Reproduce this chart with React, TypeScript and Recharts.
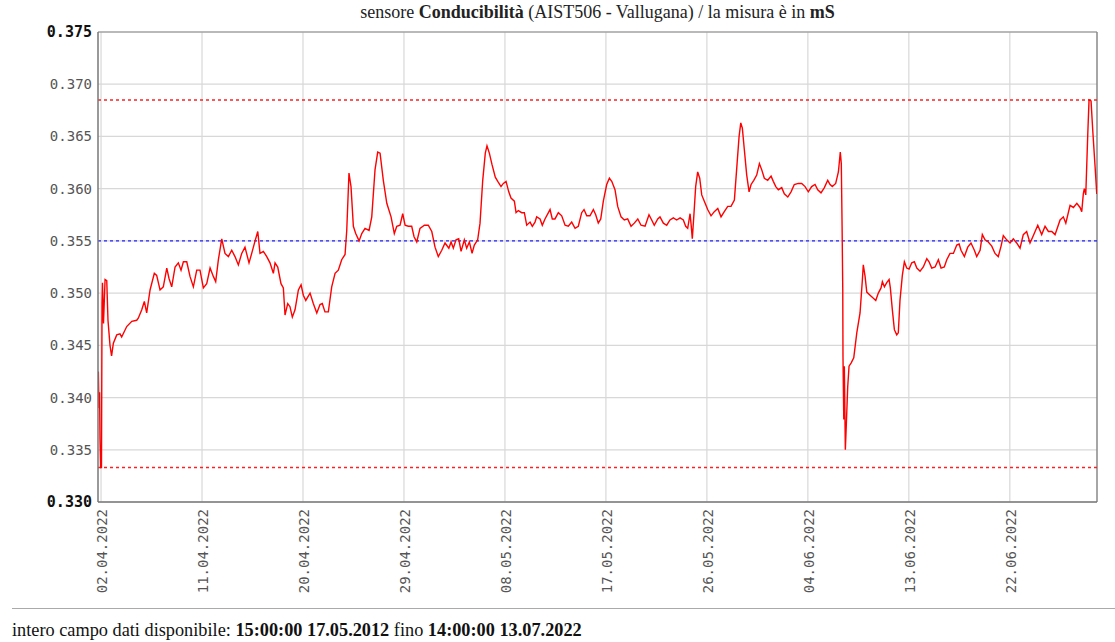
import React from "react";
import { LineChart, Line, XAxis, YAxis, CartesianGrid, ReferenceLine } from "recharts";

// days since 02.04.2022 00:00
const T: number[] = [
  -0.24, -0.18, -0.13, -0.09, -0.04, 0.04, 0.09, 0.13, 0.22, 0.36, 0.51, 0.62, 0.8, 0.94, 1.1, 1.4, 1.69, 1.84, 2.29, 2.74,
  3.18, 3.32, 3.63, 3.86, 4.07, 4.37, 4.75, 4.96, 5.26, 5.55, 5.86, 6.06, 6.3, 6.6, 6.89, 7.13, 7.34, 7.64, 7.93, 8.23,
  8.53, 8.82, 9.12, 9.42, 9.72, 10.01, 10.22, 10.46, 10.76, 11.05, 11.35, 11.65, 11.94, 12.24, 12.54, 12.83, 13.19, 13.43, 13.73, 13.97,
  14.17, 14.47, 14.77, 15.06, 15.36, 15.51, 15.75, 16.04, 16.25, 16.4, 16.64, 16.84, 17.05, 17.29, 17.59, 17.83, 18.03, 18.25, 18.63, 18.92,
  19.23, 19.52, 19.72, 19.96, 20.26, 20.56, 20.86, 21.15, 21.45, 21.75, 21.9, 22.1, 22.28, 22.49, 22.7, 23.0, 23.24, 23.53, 23.89, 24.13,
  24.42, 24.66, 24.87, 25.16, 25.47, 25.85, 26.14, 26.36, 26.65, 26.89, 27.1, 27.39, 27.69, 27.9, 28.14, 28.43, 28.82, 29.17, 29.48, 29.77,
  30.06, 30.37, 30.66, 31.0, 31.2, 31.4, 31.64, 31.88, 32.09, 32.38, 32.59, 32.83, 33.07, 33.27, 33.57, 33.78, 34.02, 34.25, 34.4, 34.61,
  34.85, 35.14, 35.36, 35.65, 35.86, 36.1, 36.34, 36.54, 36.84, 36.99, 37.19, 37.5, 37.73, 37.94, 38.24, 38.44, 38.68, 38.83, 39.13, 39.33,
  39.57, 40.02, 40.22, 40.46, 40.76, 41.06, 41.36, 41.65, 41.95, 42.25, 42.54, 42.84, 43.05, 43.29, 43.58, 43.88, 44.09, 44.32, 44.54, 44.77,
  45.07, 45.31, 45.52, 45.81, 46.05, 46.35, 46.64, 46.94, 47.24, 47.53, 47.84, 48.13, 48.49, 48.84, 49.08, 49.31, 49.62, 49.82, 50.12, 50.42,
  50.71, 51.01, 51.31, 51.61, 51.9, 52.11, 52.29, 52.5, 52.59, 52.7, 52.83, 53.0, 53.18, 53.36, 53.54, 53.77, 54.07, 54.37, 54.66, 54.97,
  55.26, 55.55, 55.86, 56.15, 56.45, 56.69, 56.87, 57.02, 57.16, 57.34, 57.55, 57.76, 57.94, 58.18, 58.44, 58.68, 58.89, 59.12, 59.42, 59.72,
  59.92, 60.14, 60.37, 60.67, 60.9, 61.21, 61.5, 61.79, 62.15, 62.45, 62.75, 63.04, 63.34, 63.64, 63.88, 64.17, 64.47, 64.77, 64.98, 65.18,
  65.48, 65.72, 65.89, 65.98, 66.05, 66.11, 66.13, 66.2, 66.25, 66.34, 66.43, 66.55, 66.67, 66.85, 67.09, 67.36, 67.65, 67.86, 67.94, 68.1,
  68.25, 68.54, 68.84, 69.05, 69.28, 69.52, 69.64, 69.82, 70.03, 70.24, 70.35, 70.53, 70.71, 70.92, 71.06, 71.21, 71.42, 71.6, 71.81, 72.02,
  72.26, 72.49, 72.71, 73.0, 73.29, 73.6, 73.8, 74.04, 74.34, 74.63, 74.87, 75.16, 75.38, 75.67, 75.97, 76.27, 76.48, 76.65, 76.95, 77.25,
  77.54, 77.84, 78.05, 78.35, 78.55, 78.79, 79.08, 79.39, 79.68, 79.97, 80.22, 80.42, 80.72, 81.02, 81.31, 81.61, 81.91, 82.2, 82.5, 82.8,
  83.09, 83.49, 83.84, 84.14, 84.44, 84.74, 85.03, 85.48, 85.77, 85.99, 86.37, 86.67, 86.97, 87.26, 87.41, 87.55, 87.64, 87.77, 87.95, 88.06,
  88.24, 88.39, 88.6, 88.75,
];

// conductivity, mS
const V: number[] = [
  0.3425, 0.339, 0.3405, 0.336, 0.3333, 0.3333, 0.349, 0.351, 0.3471, 0.3513, 0.3512, 0.3474, 0.345, 0.344, 0.3452, 0.346, 0.3461, 0.3458, 0.3468, 0.3473,
  0.3474, 0.3476, 0.3484, 0.3492, 0.3481, 0.3503, 0.3519, 0.3517, 0.3503, 0.3506, 0.3524, 0.3514, 0.3506, 0.3525, 0.3529, 0.3522, 0.353, 0.353, 0.3516, 0.3506,
  0.3522, 0.3522, 0.3505, 0.3509, 0.3524, 0.3516, 0.3511, 0.3532, 0.3552, 0.3538, 0.3535, 0.3541, 0.3535, 0.3527, 0.3538, 0.3544, 0.3529, 0.3538, 0.355, 0.3559,
  0.3538, 0.354, 0.3535, 0.3529, 0.3519, 0.3529, 0.3525, 0.3509, 0.3505, 0.3479, 0.349, 0.3487, 0.3477, 0.3484, 0.3503, 0.3508, 0.3498, 0.3493, 0.35, 0.349,
  0.3481, 0.3489, 0.349, 0.3482, 0.3482, 0.3506, 0.3519, 0.3522, 0.3532, 0.3537, 0.356, 0.3615, 0.3602, 0.3564, 0.3557, 0.355, 0.3557, 0.3562, 0.356, 0.3573,
  0.3618, 0.3635, 0.3634, 0.3608, 0.3586, 0.3573, 0.3557, 0.3564, 0.3565, 0.3576, 0.3565, 0.3564, 0.3564, 0.3554, 0.3549, 0.3562, 0.3565, 0.3565, 0.3559, 0.3544,
  0.3535, 0.3541, 0.3548, 0.3543, 0.3549, 0.3543, 0.3551, 0.3552, 0.354, 0.3551, 0.3543, 0.3549, 0.3538, 0.3546, 0.3551, 0.3567, 0.3608, 0.3634, 0.3641, 0.3634,
  0.3623, 0.3611, 0.3607, 0.3602, 0.3605, 0.3607, 0.3597, 0.3591, 0.3588, 0.3577, 0.3579, 0.3577, 0.3577, 0.3565, 0.3568, 0.3564, 0.3568, 0.3573, 0.3571, 0.3565,
  0.3571, 0.358, 0.3571, 0.3571, 0.3577, 0.3574, 0.3565, 0.3564, 0.3568, 0.3562, 0.3564, 0.3577, 0.358, 0.3574, 0.3574, 0.358, 0.3575, 0.3567, 0.3571, 0.3588,
  0.3604, 0.361, 0.3607, 0.3599, 0.3583, 0.3573, 0.357, 0.3571, 0.3564, 0.3567, 0.3571, 0.3565, 0.3564, 0.3575, 0.357, 0.3565, 0.3571, 0.3573, 0.3567, 0.3565,
  0.357, 0.3572, 0.357, 0.3572, 0.357, 0.3564, 0.3562, 0.3576, 0.3566, 0.3552, 0.3573, 0.3602, 0.3616, 0.361, 0.3594, 0.3588, 0.358, 0.3574, 0.3578, 0.3581,
  0.3573, 0.3578, 0.3583, 0.3583, 0.3589, 0.3624, 0.365, 0.3663, 0.3658, 0.3637, 0.3613, 0.3597, 0.3604, 0.3608, 0.3613, 0.3624, 0.3618, 0.361, 0.3608, 0.3612,
  0.3607, 0.3602, 0.3599, 0.3601, 0.3595, 0.3592, 0.3597, 0.3604, 0.3605, 0.3605, 0.3602, 0.3597, 0.3602, 0.3604, 0.3599, 0.3596, 0.3601, 0.3608, 0.3604, 0.3602,
  0.3605, 0.3616, 0.3635, 0.3624, 0.3564, 0.3503, 0.3439, 0.3379, 0.343, 0.335, 0.3375, 0.341, 0.343, 0.3433, 0.3438, 0.3462, 0.3481, 0.3513, 0.3527, 0.3516,
  0.3501, 0.3498, 0.3495, 0.3493, 0.35, 0.3505, 0.3511, 0.3506, 0.351, 0.3513, 0.3505, 0.3484, 0.3465, 0.346, 0.3462, 0.3493, 0.3517, 0.353, 0.3524, 0.3523,
  0.3529, 0.353, 0.3524, 0.3521, 0.3525, 0.3533, 0.353, 0.3524, 0.3525, 0.3532, 0.3524, 0.3525, 0.3532, 0.3538, 0.3538, 0.3546, 0.3547, 0.3541, 0.3535, 0.3544,
  0.3548, 0.3541, 0.3535, 0.3541, 0.3556, 0.3551, 0.3549, 0.3545, 0.3538, 0.3535, 0.3545, 0.3555, 0.3551, 0.3548, 0.3552, 0.3548, 0.3543, 0.3556, 0.3559, 0.3548,
  0.3555, 0.3565, 0.3556, 0.3564, 0.3559, 0.3559, 0.3556, 0.357, 0.3573, 0.3567, 0.3584, 0.3582, 0.3586, 0.3582, 0.3578, 0.3595, 0.36, 0.3594, 0.3653, 0.3685,
  0.3684, 0.3656, 0.3621, 0.3595,
];

const X_TICKS: number[] = [0, 9, 18, 27, 36, 45, 54, 63, 72, 81];
const X_LABELS: string[] = [
  "02.04.2022", "11.04.2022", "20.04.2022", "29.04.2022", "08.05.2022",
  "17.05.2022", "26.05.2022", "04.06.2022", "13.06.2022", "22.06.2022",
];
const Y_TICKS: number[] = [0.33, 0.335, 0.34, 0.345, 0.35, 0.355, 0.36, 0.365, 0.37, 0.375];

const MAX_VAL = 0.3685;
const MIN_VAL = 0.3333;
const MEAN_VAL = 0.355;
const X_DOMAIN: [number, number] = [-0.27, 88.77];

const data = T.map((t, i) => ({ t, v: V[i] }));

const MONO = "'DejaVu Sans Mono', monospace";
const SERIF = "'Liberation Serif', 'Times New Roman', serif";

const YTick = (props: any) => {
  const { y, payload } = props;
  const val: number = payload.value;
  const bold = val === Y_TICKS[0] || val === Y_TICKS[Y_TICKS.length - 1];
  return (
    <text x={92} y={y} dy={5} textAnchor="end" fontFamily={MONO} fontSize={bold ? 15 : 14}
      fontWeight={bold ? "bold" : "normal"} fill={bold ? "#111" : "#555"}>
      {val.toFixed(3)}
    </text>
  );
};

const XTick = (props: any) => {
  const { x, payload } = props;
  const idx = X_TICKS.indexOf(payload.value);
  return (
    <g transform={`translate(${x + 1},${509})`}>
      <text transform="rotate(-90)" textAnchor="end" dy={5} fontFamily={MONO} fontSize={14} fill="#555">
        {idx >= 0 ? X_LABELS[idx] : ""}
      </text>
    </g>
  );
};

export default function App() {
  return (
    <div style={{ position: "absolute", left: 0, top: 0, width: 1115, height: 642, background: "#fff", overflow: "hidden" }}>
      <div style={{ position: "absolute", left: 98, top: 2, width: 999, textAlign: "center", fontFamily: SERIF, fontSize: 18, color: "#222" }}>
        sensore <b>Conducibilità</b> (AIST506 - Vallugana) / la misura è in <b>mS</b>
      </div>
      <div style={{ position: "absolute", left: 0, top: 0 }}>
        <LineChart width={1115} height={600} data={data} margin={{ top: 32, right: 18, left: 0, bottom: 0 }}>
          <CartesianGrid stroke="#d8d8d8" strokeWidth={1.2} horizontalValues={Y_TICKS} verticalValues={X_TICKS} />
          <XAxis dataKey="t" type="number" domain={X_DOMAIN} ticks={X_TICKS} allowDataOverflow
            height={98} tickLine={false} axisLine={{ stroke: "#777", strokeWidth: 1.5 }} tick={<XTick />} interval={0} />
          <YAxis type="number" domain={[0.33, 0.375]} ticks={Y_TICKS} allowDataOverflow width={98}
            tickLine={false} axisLine={{ stroke: "#777", strokeWidth: 1.5 }} tick={<YTick />} interval={0} />
          <ReferenceLine y={0.375} stroke="#888" strokeWidth={1.2} />
          <ReferenceLine x={X_DOMAIN[1]} stroke="#888" strokeWidth={1.5} />
          <ReferenceLine y={MAX_VAL} stroke="#ff2020" strokeDasharray="3 3" strokeWidth={1.5} />
          <ReferenceLine y={MIN_VAL} stroke="#ff2020" strokeDasharray="3 3" strokeWidth={1.5} />
          <ReferenceLine y={MEAN_VAL} stroke="#2020ff" strokeDasharray="3 3" strokeWidth={1.3} />
          <Line type="linear" dataKey="v" stroke="#ff0000" strokeWidth={1.4} dot={false} isAnimationActive={false} />
        </LineChart>
      </div>
      <div style={{ position: "absolute", left: 12, right: 0, top: 608, borderTop: "1.5px solid #aaa" }} />
      <div style={{ position: "absolute", left: 12, top: 620, fontFamily: SERIF, fontSize: 18.3, color: "#111", whiteSpace: "nowrap" }}>
        intero campo dati disponibile: <b>15:00:00 17.05.2012</b> fino <b>14:00:00 13.07.2022</b>
      </div>
    </div>
  );
}
